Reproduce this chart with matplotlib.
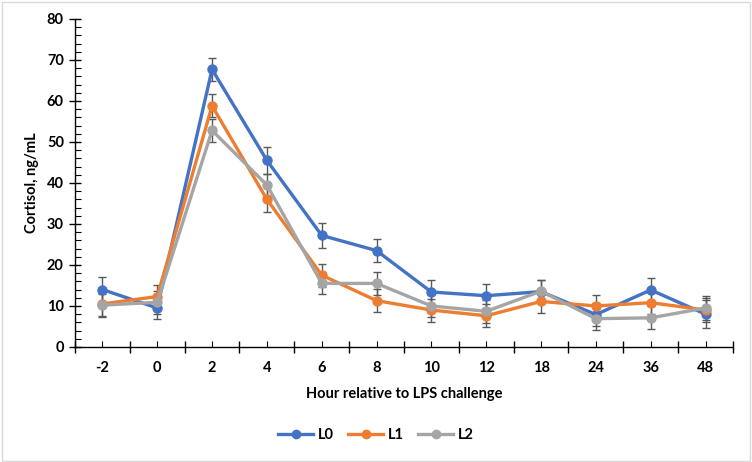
import matplotlib
matplotlib.use("Agg")
import matplotlib.pyplot as plt
from matplotlib.lines import Line2D
from matplotlib.patches import Rectangle

plt.rcParams["font.family"] = ["Lato", "DejaVu Sans"]

hours = ["-2", "0", "2", "4", "6", "8", "10", "12", "18", "24", "36", "48"]

l0 = [14.0, 9.5, 67.7, 45.5, 27.2, 23.5, 13.4, 12.5, 13.5, 7.9, 13.9, 8.0]
l1 = [10.5, 12.3, 58.8, 36.0, 17.5, 11.3, 9.0, 7.6, 11.1, 10.0, 10.8, 9.0]
l2 = [10.2, 10.9, 52.8, 39.5, 15.5, 15.5, 10.0, 8.7, 13.6, 6.9, 7.1, 9.5]

l0_se = [3.0, 2.8, 2.8, 3.2, 3.0, 2.8, 2.9, 2.9, 2.8, 2.9, 2.8, 3.4]
l1_se = [2.9, 2.8, 2.8, 3.2, 2.8, 2.8, 2.8, 2.8, 2.8, 2.7, 2.8, 2.9]
l2_se = [2.8, 2.8, 2.8, 2.8, 2.7, 2.8, 2.8, 2.8, 2.8, 2.7, 2.8, 2.9]

series = [("L0", l0, l0_se, "#4472C4"),
          ("L1", l1, l1_se, "#ED7D31"),
          ("L2", l2, l2_se, "#A5A5A5")]

fig = plt.figure(figsize=(7.52, 4.62), dpi=100)
ax = fig.add_axes([0.0997, 0.249, 0.875, 0.71])

x = list(range(len(hours)))
for name, vals, se, col in series:
    ax.errorbar(x, vals, yerr=se, fmt="none", ecolor="#595959",
                elinewidth=1.0, capsize=3, capthick=1.0, zorder=2)
for name, vals, se, col in series:
    ax.plot(x, vals, color=col, lw=2.4, marker="o", ms=6.5, zorder=3)

ax.set_xlim(-0.5, len(hours) - 0.5)
ax.set_ylim(0, 80)
ax.set_yticks(range(0, 81, 10))
ax.set_yticks(range(0, 81, 2), minor=True)
ax.set_xticks([i - 0.5 for i in range(len(hours) + 1)])
ax.set_xticklabels([])
ax.set_xticks(x, minor=True)
ax.set_xticklabels(hours, minor=True)

ax.tick_params(axis="y", which="major", direction="inout", length=8, width=1.0,
               labelsize=10.5, pad=4)
ax.tick_params(axis="y", which="minor", direction="in", length=4, width=0.8)
ax.tick_params(axis="x", which="major", direction="inout", length=8, width=1.0)
ax.tick_params(axis="x", which="minor", direction="in", length=4, width=0.8,
               labelsize=10.5, pad=10)
for lab in ax.get_yticklabels() + ax.get_xticklabels(minor=True):
    lab.set_fontweight("bold")

for s in ["top", "right"]:
    ax.spines[s].set_visible(False)
for s in ["left", "bottom"]:
    ax.spines[s].set_linewidth(1.0)
    ax.spines[s].set_color("black")

ax.set_ylabel("Cortisol, ng/mL", fontsize=10.5, fontweight="bold", labelpad=6)
ax.set_xlabel("Hour relative to LPS challenge", fontsize=10.5, fontweight="bold",
              labelpad=9)

handles = [Line2D([], [], color=c, lw=2.4, marker="o", ms=6) for _, _, _, c in series]
fig.legend(handles, [s[0] for s in series], loc="center", ncol=3,
           bbox_to_anchor=(0.5, 0.058), frameon=False, handlelength=2.4,
           handletextpad=0.3, columnspacing=1.0,
           prop={"weight": "bold", "size": 10.5})

fig.patches.append(Rectangle((0.002, 0.003), 0.995, 0.993, transform=fig.transFigure,
                             fill=False, edgecolor="#D9D9D9", lw=1.0))

fig.savefig("out.png", dpi=100)
